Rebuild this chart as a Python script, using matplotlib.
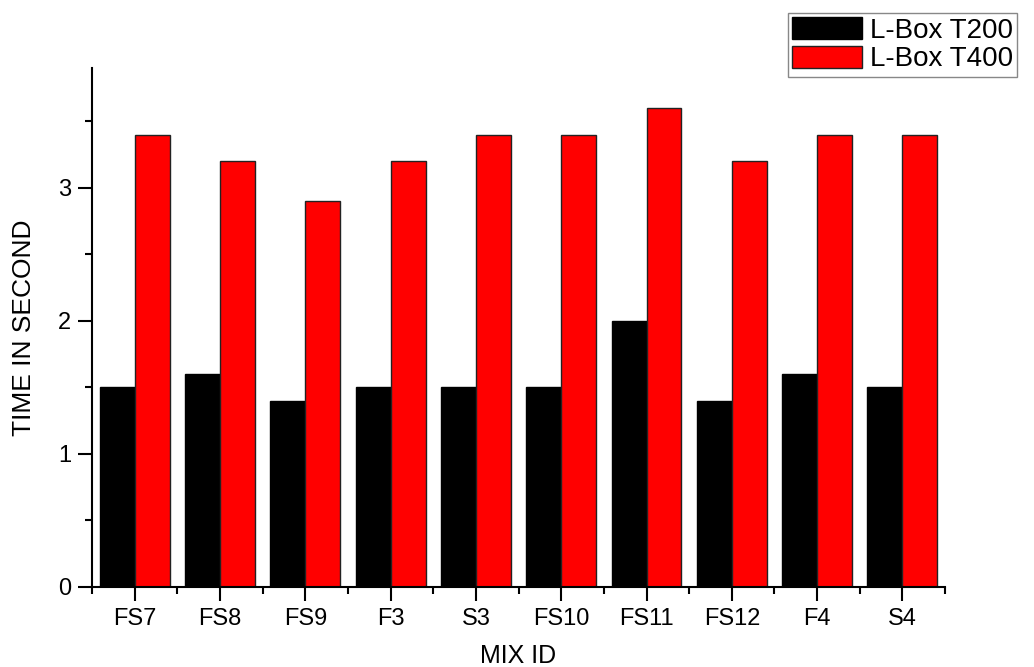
import numpy as np
import matplotlib.pyplot as plt
from matplotlib.ticker import MultipleLocator

plt.rcParams['font.family'] = ['Liberation Sans', 'DejaVu Sans']

mixes = ['FS7', 'FS8', 'FS9', 'F3', 'S3', 'FS10', 'FS11', 'FS12', 'F4', 'S4']
t200 = [1.5, 1.6, 1.4, 1.5, 1.5, 1.5, 2.0, 1.4, 1.6, 1.5]
t400 = [3.4, 3.2, 2.9, 3.2, 3.4, 3.4, 3.6, 3.2, 3.4, 3.4]

fig = plt.figure(figsize=(10.34, 6.67), dpi=100)
ax = fig.add_axes([0.089, 0.12, 0.825, 0.778])

x = np.arange(len(mixes))
w = 0.41
ax.bar(x - w / 2, t200, w, color='black', edgecolor='black', linewidth=1, label='L-Box T200')
ax.bar(x + w / 2, t400, w, color='#ff0000', edgecolor='#222222', linewidth=1, label='L-Box T400')

ax.set_xlim(-0.5, 9.5)
ax.set_ylim(0, 3.9)
ax.set_xticks(x)
ax.set_xticklabels(mixes)
ax.xaxis.set_minor_locator(MultipleLocator(1, offset=0.5))
ax.yaxis.set_major_locator(MultipleLocator(1))
ax.yaxis.set_minor_locator(MultipleLocator(0.5))

for s in ['top', 'right']:
    ax.spines[s].set_visible(False)
for s in ['left', 'bottom']:
    ax.spines[s].set_linewidth(1.5)

ax.tick_params(which='major', length=10, width=1.5, labelsize=17, pad=5)
ax.tick_params(which='minor', length=5, width=1.5)

ax.set_xlabel('MIX ID', fontsize=18, labelpad=10)
ax.set_ylabel('TIME IN SECOND', fontsize=19, labelpad=16)

leg = fig.legend(loc='upper left', bbox_to_anchor=(0.762, 0.981), fontsize=20,
                 handlelength=2.5, handleheight=0.85, handletextpad=0.3,
                 labelspacing=0.08, borderpad=0.15, borderaxespad=0,
                 fancybox=False, framealpha=1)
leg.get_frame().set_edgecolor('#888888')
leg.get_frame().set_linewidth(1)

fig.savefig('out.png', dpi=100)
